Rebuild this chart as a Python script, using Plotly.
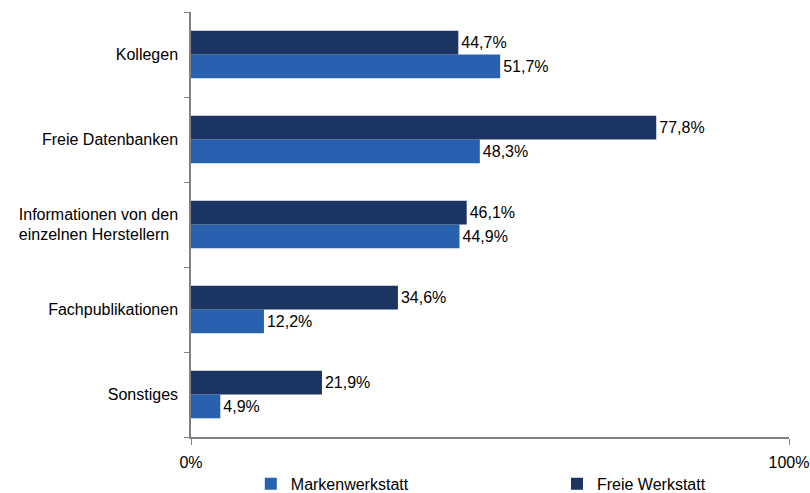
import plotly.graph_objects as go

categories = ["Kollegen", "Freie Datenbanken",
              "Informationen von den<br>einzelnen Herstellern&nbsp;&nbsp;",
              "Fachpublikationen", "Sonstiges"]
marken = [51.7, 48.3, 44.9, 12.2, 4.9]
freie = [44.7, 77.8, 46.1, 34.6, 21.9]
x_ticks = [0, 100]
x_tick_labels = ["0%", "100%"]

def fmt(v):
    return f"{v:.1f}".replace(".", ",") + "%"

FS = 16
cats_bottom_up = categories[::-1]
fig = go.Figure()
fig.add_trace(go.Bar(
    y=cats_bottom_up, x=marken[::-1], orientation="h", name="Markenwerkstatt",
    marker=dict(color="#2862AE", line=dict(width=0)), text=[fmt(v) for v in marken[::-1]],
    textposition="outside", textfont=dict(size=FS, color="#000000"), cliponaxis=False,
    legend="legend",
))
fig.add_trace(go.Bar(
    y=cats_bottom_up, x=freie[::-1], orientation="h", name="Freie Werkstatt",
    marker=dict(color="#1B3461", line=dict(width=0)), text=[fmt(v) for v in freie[::-1]],
    textposition="outside", textfont=dict(size=FS, color="#000000"), cliponaxis=False,
    legend="legend2",
))
leg_common = dict(orientation="h", yanchor="middle", y=-0.11, xanchor="left",
                  font=dict(size=FS), itemwidth=30, bgcolor="rgba(0,0,0,0)")
fig.update_layout(
    width=810, height=493,
    margin=dict(l=191, r=21, t=12, b=56, autoexpand=False),
    paper_bgcolor="white", plot_bgcolor="white",
    barmode="group", bargap=0.44, bargroupgap=0,
    font=dict(family="Liberation Sans, Arial, sans-serif", size=FS, color="#000000"),
    showlegend=True,
    legend=dict(x=0.1, **leg_common),
    legend2=dict(x=0.612, **leg_common),
)
fig.update_xaxes(
    range=[0, 100], tickvals=x_ticks, ticktext=x_tick_labels, automargin=False,
    showline=True, linecolor="#808080", linewidth=1.5, showgrid=False, zeroline=False,
    ticks="outside", ticklen=6, tickcolor="#808080", tickfont=dict(size=FS),
    ticklabelstandoff=4,
)
fig.update_yaxes(
    type="category", categoryorder="array", categoryarray=cats_bottom_up, automargin=False,
    showline=True, linecolor="#808080", linewidth=1.5, showgrid=False,
    ticks="outside", ticklen=5, tickcolor="#808080", tickson="boundaries",
    tickfont=dict(size=FS), ticklabelstandoff=8,
)
fig.write_html("out.html")
